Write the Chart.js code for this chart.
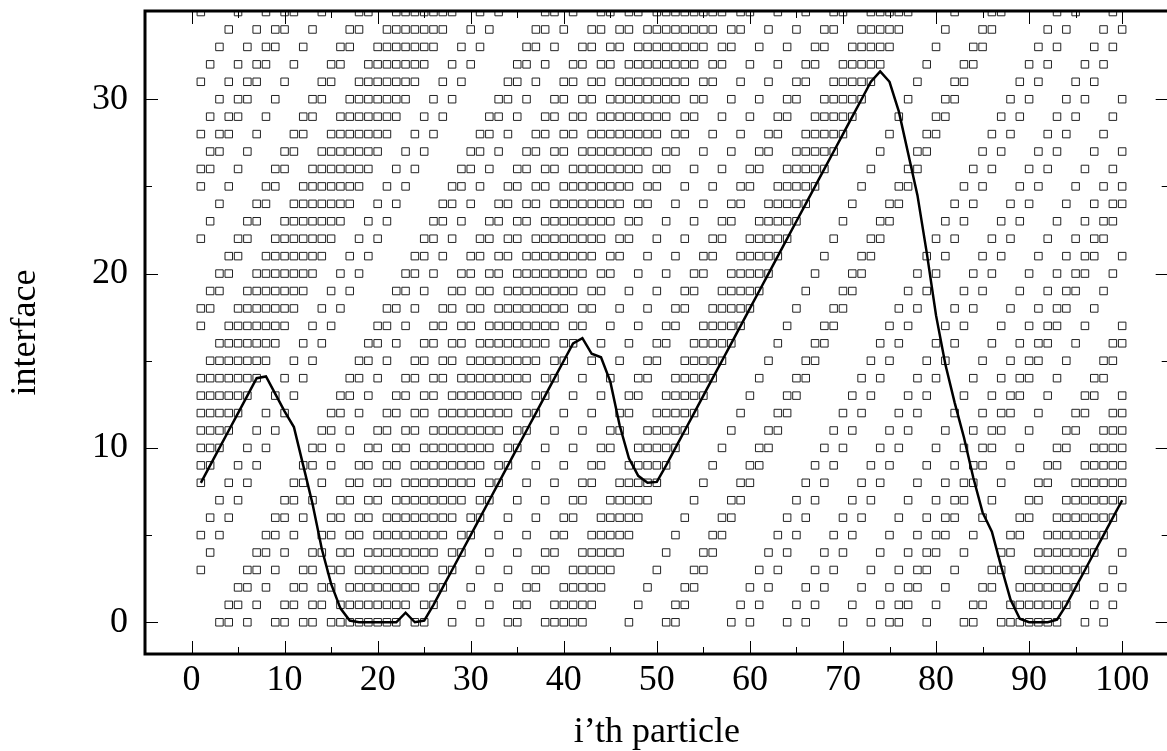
<!DOCTYPE html>
<html lang="en">
<head>
<meta charset="UTF-8">
<title>interface</title>
<script src="https://cdn.jsdelivr.net/npm/chart.js"></script>
<style>
  html, body { margin: 0; padding: 0; background: #fff; overflow: hidden; }
  .wrap { width: 1167px; height: 751px; overflow: hidden; }
  canvas { display: block; }
</style>
</head>
<body>
<div class="wrap"><canvas id="chart" width="1175" height="751"></canvas></div>
<script>
// occupied sites per row (y = 0 at the top of the list), char i -> particle i+1
const rows = [
  "..##.#..##.##.########.##..#..#..##..#####....#...##.....#.#...#.#...#..#.##..#...##..#######..#.#..", // 0
  "...##.#..##.##.########.##..#..#..##..#####....#...##.....#.#...#.#...#..#.##..#...##..#######..#.#.", // 1
  "....##.#..##.##.########.##..#..#..##..#####....#...##.....#.#...#.#...#..#.##..#...##..#######..#.#", // 2
  "#....##.#..##.##.########.##..#..#..##..#####....#...##.....#.#...#.#...#..#.##..#...##..#######..#.", // 3
  ".#....##.#..##.##.########.##..#..#..##..#####....#...##.....#.#...#.#...#..#.##..#...##..#######..#", // 4
  "#.#....##.#..##.##.########.##..#..#..##..#####....#...##.....#.#...#.#...#..#.##..#...##..#######..", // 5
  ".#.#....##.#..##.##.########.##..#..#..##..#####....#...##.....#.#...#.#...#..#.##..#...##..#######.", // 6
  "..#.#....##.#..##.##.########.##..#..#..##..#####....#...##.....#.#...#.#...#..#.##..#...##..#######", // 7
  "#..#.#....##.#..##.##.########.##..#..#..##..#####....#...##.....#.#...#.#...#..#.##..#...##..######", // 8
  "##..#.#....##.#..##.##.########.##..#..#..##..#####....#...##.....#.#...#.#...#..#.##..#...##..#####", // 9
  "###..#.#....##.#..##.##.########.##..#..#..##..#####....#...##.....#.#...#.#...#..#.##..#...##..####", // 10
  "####..#.#....##.#..##.##.########.##..#..#..##..#####....#...##.....#.#...#.#...#..#.##..#...##..###", // 11
  "#####..#.#....##.#..##.##.########.##..#..#..##..#####....#...##.....#.#...#.#...#..#.##..#...##..##", // 12
  "######..#.#....##.#..##.##.########.##..#..#..##..#####....#...##.....#.#...#.#...#..#.##..#...##..#", // 13
  "#######..#.#....##.#..##.##.########.##..#..#..##..#####....#...##.....#.#...#.#...#..#.##..#...##..", // 14
  ".#######..#.#....##.#..##.##.########.##..#..#..##..#####....#...##.....#.#...#.#...#..#.##..#...##.", // 15
  "..#######..#.#....##.#..##.##.########.##..#..#..##..#####....#...##.....#.#...#.#...#..#.##..#...##", // 16
  "#..#######..#.#....##.#..##.##.########.##..#..#..##..#####....#...##.....#.#...#.#...#..#.##..#...#", // 17
  "##..#######..#.#....##.#..##.##.########.##..#..#..##..#####....#...##.....#.#...#.#...#..#.##..#...", // 18
  ".##..#######..#.#....##.#..##.##.########.##..#..#..##..#####....#...##.....#.#...#.#...#..#.##..#..", // 19
  "..##..#######..#.#....##.#..##.##.########.##..#..#..##..#####....#...##.....#.#...#.#...#..#.##..#.", // 20
  "...##..#######..#.#....##.#..##.##.########.##..#..#..##..#####....#...##.....#.#...#.#...#..#.##..#", // 21
  "#...##..#######..#.#....##.#..##.##.########.##..#..#..##..#####....#...##.....#.#...#.#...#..#.##..", // 22
  ".#...##..#######..#.#....##.#..##.##.########.##..#..#..##..#####....#...##.....#.#...#.#...#..#.##.", // 23
  "..#...##..#######..#.#....##.#..##.##.########.##..#..#..##..#####....#...##.....#.#...#.#...#..#.##", // 24
  "#..#...##..#######..#.#....##.#..##.##.########.##..#..#..##..#####....#...##.....#.#...#.#...#..#.#", // 25
  "##..#...##..#######..#.#....##.#..##.##.########.##..#..#..##..#####....#...##.....#.#...#.#...#..#.", // 26
  ".##..#...##..#######..#.#....##.#..##.##.########.##..#..#..##..#####....#...##.....#.#...#.#...#..#", // 27
  "#.##..#...##..#######..#.#....##.#..##.##.########.##..#..#..##..#####....#...##.....#.#...#.#...#..", // 28
  ".#.##..#...##..#######..#.#....##.#..##.##.########.##..#..#..##..#####....#...##.....#.#...#.#...#.", // 29
  "..#.##..#...##..#######..#.#....##.#..##.##.########.##..#..#..##..#####....#...##.....#.#...#.#...#", // 30
  "#..#.##..#...##..#######..#.#....##.#..##.##.########.##..#..#..##..#####....#...##.....#.#...#.#...", // 31
  ".#..#.##..#...##..#######..#.#....##.#..##.##.########.##..#..#..##..#####....#...##.....#.#...#.#..", // 32
  "..#..#.##..#...##..#######..#.#....##.#..##.##.########.##..#..#..##..#####....#...##.....#.#...#.#.", // 33
  "...#..#.##..#...##..#######..#.#....##.#..##.##.########.##..#..#..##..#####....#...##.....#.#...#.#", // 34
  "#...#..#.##..#...##..#######..#.#....##.#..##.##.########.##..#..#..##..#####....#...##.....#.#...#."  // 35
];

// interface height for particle 1..100
const interfaceHeight = [
  8, 9, 10, 11, 12, 13, 14, 14.1, 13.1, 12.1,
  11.2, 9.0, 6.8, 4.2, 2.2, 0.8, 0.1, 0, 0, 0,
  0, 0, 0.55, 0, 0.1, 1, 2, 3, 4, 5,
  6, 7, 8, 9, 10, 11, 12, 13, 14, 15,
  16, 16.3, 15.4, 15.2, 13.8, 11.3, 9.4, 8.4, 8.0, 8.05,
  9, 10, 11, 12, 13, 14, 15, 16, 17, 18,
  19, 20, 21, 22, 23, 24, 25, 26, 27, 28,
  29, 30, 31, 31.6, 31.0, 29.3, 26.9, 24.5, 21.2, 17.6,
  14.8, 12.6, 10.6, 8.3, 6.3, 5.2, 3.2, 1.3, 0.2, 0,
  0, 0, 0.15, 1, 2, 3, 4, 5, 6, 7
];

const xTicks = [0, 10, 20, 30, 40, 50, 60, 70, 80, 90, 100];
const xMinorTicks = [5, 15, 25, 35, 45, 55, 65, 75, 85, 95];
const yTicks = [0, 10, 20, 30];
const yMinorTicks = [5, 15, 25];

rows.forEach((r, y) => { if (r.length !== 100) console.error('row ' + y + ' has ' + r.length); });

const points = [];
rows.forEach((r, y) => {
  for (let i = 0; i < r.length; i++) {
    if (r[i] === '#') points.push({x: i + 1, y: y});
  }
});

const serif = 'Liberation Serif, Times New Roman, serif';

// gnuplot style frame with inward ticks on all four sides
const frameTicks = {
  id: 'frameTicks',
  afterDatasetsDraw(chart) {
    const {ctx, chartArea: a} = chart;
    const xs = chart.scales.x, ys = chart.scales.y;
    ctx.save();
    ctx.strokeStyle = '#000';
    ctx.lineWidth = 1;
    ctx.beginPath();
    const xt = (v, len) => {
      const p = Math.round(xs.getPixelForValue(v)) + 0.5;
      ctx.moveTo(p, a.bottom); ctx.lineTo(p, a.bottom - len);
      ctx.moveTo(p, a.top); ctx.lineTo(p, a.top + len);
    };
    const yt = (v, len) => {
      const p = Math.round(ys.getPixelForValue(v)) + 0.5;
      ctx.moveTo(a.left, p); ctx.lineTo(a.left + len, p);
      ctx.moveTo(a.right, p); ctx.lineTo(a.right - len, p);
    };
    xTicks.forEach(v => xt(v, 13));
    xMinorTicks.forEach(v => xt(v, 7));
    yTicks.forEach(v => yt(v, 13));
    yMinorTicks.forEach(v => yt(v, 7));
    ctx.stroke();
    ctx.lineWidth = 3;
    ctx.strokeRect(a.left, a.top, a.right - a.left, a.bottom - a.top);
    ctx.restore();
  }
};

new Chart(document.getElementById('chart'), {
  type: 'scatter',
  data: {
    datasets: [
      {
        type: 'line',
        label: 'interface',
        data: interfaceHeight.map((h, i) => ({x: i + 1, y: h})),
        borderColor: '#000',
        borderWidth: 2.5,
        pointRadius: 0,
        fill: false,
        tension: 0,
        order: 0,
        clip: 0
      },
      {
        label: 'particles',
        data: points,
        pointStyle: 'rect',
        pointRadius: 5.3,
        borderWidth: 1,
        borderColor: '#222',
        backgroundColor: 'rgba(0,0,0,0)',
        order: 1,
        clip: 0
      }
    ]
  },
  options: {
    responsive: false,
    animation: false,
    events: [],
    layout: { padding: { top: 11, right: 6, left: 0, bottom: 0 } },
    plugins: { legend: { display: false }, tooltip: { enabled: false } },
    scales: {
      x: {
        type: 'linear',
        min: -5,
        max: 105,
        afterBuildTicks: s => { s.ticks = xTicks.map(v => ({value: v})); },
        afterFit: s => { s.height = 97; s.paddingLeft = 0; s.paddingRight = 0; },
        grid: { display: false, drawTicks: false },
        border: { display: false },
        ticks: { color: '#000', font: { family: serif, size: 36 }, padding: 5, autoSkip: false, maxRotation: 0 },
        title: { display: true, text: 'i\u2019th particle', color: '#000', font: { family: serif, size: 36, lineHeight: 1 }, padding: { top: 0, bottom: 0 } }
      },
      y: {
        type: 'linear',
        min: -1.82,
        max: 35.06,
        afterBuildTicks: s => { s.ticks = yTicks.map(v => ({value: v})); },
        afterFit: s => { s.width = 145; s.paddingTop = 0; s.paddingBottom = 0; },
        grid: { display: false, drawTicks: false },
        border: { display: false },
        ticks: { color: '#000', font: { family: serif, size: 36 }, padding: 17 },
        title: { display: true, text: 'interface', color: '#000', font: { family: serif, size: 36, lineHeight: 1 }, padding: { top: 8, bottom: 0 } }
      }
    }
  },
  plugins: [frameTicks]
});
</script>
</body>
</html>
